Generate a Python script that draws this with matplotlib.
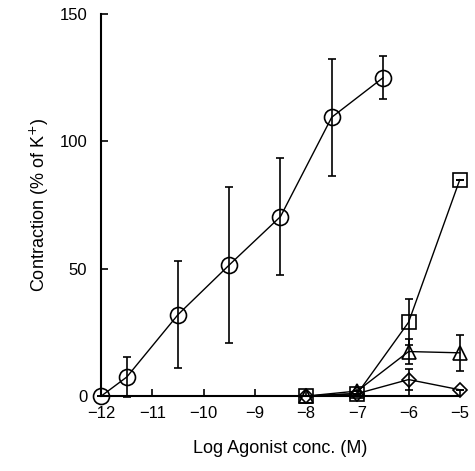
import matplotlib.pyplot as plt
import numpy as np

plt.rcParams['font.family'] = ['Liberation Sans', 'DejaVu Sans']

# circle series
circ_x = [-12, -11.5, -10.5, -9.5, -8.5, -7.5, -6.5]
circ_y = [0, 7.5, 32, 51.5, 70.5, 109.5, 125]
circ_err = [0, 8, 21, 30.5, 23, 23, 8.5]

# square series
sq_x = [-8, -7, -6, -5]
sq_y = [0, 1, 29, 85]
sq_err = [0, 0, 9, 0]

# triangle series
tri_x = [-8, -7, -6, -5]
tri_y = [0, 2, 17.5, 17]
tri_err = [0, 0, 5, 7]

# diamond series
dia_x = [-8, -7, -6, -5]
dia_y = [0, 1, 6.5, 2.5]
dia_err = [0, 0, 4, 0]

fig = plt.figure(figsize=(4.75, 4.71), dpi=100)
ax = fig.add_axes([0.213, 0.159, 0.755, 0.811])

common = dict(color='black', lw=1, mfc='none', mec='black', mew=1.2,
              capsize=3, elinewidth=1.2, ecolor='black', clip_on=False)
ax.errorbar(circ_x, circ_y, yerr=circ_err, marker='o', ms=11.5, **common)
ax.errorbar(sq_x, sq_y, yerr=sq_err, marker='s', ms=10, **common)
ax.errorbar(tri_x, tri_y, yerr=tri_err, marker='^', ms=10, **common)
ax.errorbar(dia_x, dia_y, yerr=dia_err, marker='D', ms=7.5, **common)

ax.set_xlim(-12, -5)
ax.set_ylim(0, 150)
ax.set_xticks(np.arange(-12, -4, 1))
ax.set_xticklabels(['\u221212', '\u221211', '\u221210', '\u22129', '\u22128', '\u22127', '\u22126', '\u22125'])
ax.set_yticks([0, 50, 100, 150])
ax.tick_params(direction='in', length=5, width=1.2, labelsize=12)
ax.tick_params(axis='x', pad=7)
ax.tick_params(axis='y', pad=10)
for s in ['top', 'right']:
    ax.spines[s].set_visible(False)
for s in ['left', 'bottom']:
    ax.spines[s].set_linewidth(1.5)

ax.set_xlabel('Log Agonist conc. (M)', fontsize=13, labelpad=14)
ax.set_ylabel('Contraction (% of K$^{+}$)', fontsize=13, labelpad=6)

fig.savefig('out.png', dpi=100)
